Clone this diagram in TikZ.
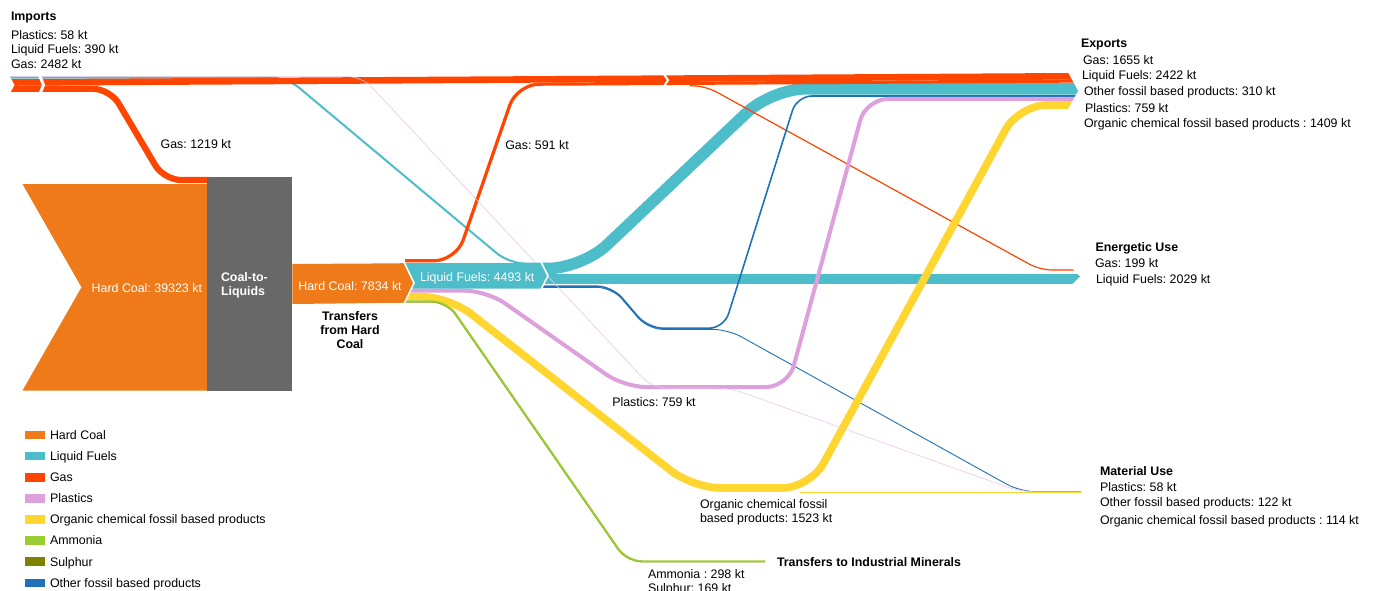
\documentclass[tikz,border=0pt]{standalone}
\usepackage{fontspec}
\setmainfont{Liberation Sans}
\frenchspacing
\definecolor{coal}{HTML}{EE7A1A}
\definecolor{liq}{HTML}{4DBDCA}
\definecolor{gas}{HTML}{FF4500}
\definecolor{plas}{HTML}{DDA0DD}
\definecolor{org}{HTML}{FFD52F}
\definecolor{amm}{HTML}{9ACD32}
\definecolor{sul}{HTML}{808000}
\definecolor{oth}{HTML}{1F72B8}
\definecolor{ctl}{HTML}{686868}
\begin{document}
\begin{tikzpicture}[x=1pt,y=-1pt,
  txt/.style={anchor=base west, inner sep=0pt, outer sep=0pt, font=\fontsize{12.4}{14}\selectfont},
  ttl/.style={txt, font=\fontsize{12.4}{14}\selectfont\bfseries},
  ctr/.style={anchor=base, inner sep=0pt, outer sep=0pt, font=\fontsize{12.4}{14}\selectfont\bfseries},
  wtxt/.style={txt, text=white},
  flowline/.style={line cap=butt, line join=round},
  whitecut/.style={white, line width=#1, line cap=butt, line join=miter},
]
\useasboundingbox (0,0) rectangle (1373,591);
\fill[white] (0,0) rectangle (1373,591);

% ---- flow end points ----
\coordinate (impGasA) at (10,82.5);
\coordinate (impGasB) at (10,88.8);
\coordinate (impLiq)  at (10,77.6);
\coordinate (impPla)  at (10,76.6);
\coordinate (ctlGas)  at (209,180);
\coordinate (trGas)   at (405,260.8);
\coordinate (trPla)   at (400,290.7);
\coordinate (trOrg)   at (400,296.6);
\coordinate (trAmm)   at (400,301.3);
\coordinate (trSul)   at (400,302.1);
\coordinate (lfExp)   at (540,268.5);
\coordinate (lfEne)   at (540,279);
\coordinate (lfOthA)  at (540,286.2);
\coordinate (lfOthB)  at (540,287.4);
\coordinate (lfIn)    at (548,263.5);
\coordinate (gSplit)  at (690,85.8);
\coordinate (orgSplit) at (800,492.4);
\coordinate (expGasA) at (1085,76.2);
\coordinate (expGasB) at (1085,81.0);
\coordinate (expLiq)  at (1085,88.8);
\coordinate (expOth)  at (1085,96);
\coordinate (expPla)  at (1085,99);
\coordinate (expOrg)  at (1085,105);
\coordinate (eneGas)  at (1085,270);
\coordinate (eneLiq)  at (1085,279);
\coordinate (matOth)  at (1085,491.6);
\coordinate (matOrg)  at (1085,492.4);
\coordinate (matPla)  at (1085,491.6);
\coordinate (minAmm)  at (765,561.2);
\coordinate (minSul)  at (765,561.9);

% ---- flows, cut to the arrow tips on the right ----
\begin{scope}
\clip (-5,-5) -- (1068,-5) -- (1068,72.5) -- (1078,90.8) -- (1068,109)
  -- (1068,268.3) -- (1071.5,268.3) -- (1080,276.5) -- (1071.5,284.7) -- (1068,284.7)
  -- (1068,490.5) -- (1081,490.5) -- (1081,494) -- (1068,494) -- (1068,600) -- (-5,600) -- cycle;

% liquid fuels
\draw[flowline, liq, line width=11.5, rounded corners=34] (lfExp) -- (582,268.5) -- (772,88.8) -- (expLiq);
\draw[flowline, liq, line width=10] (lfEne) -- (eneLiq);
\draw[flowline, liq, line width=2, rounded corners=16] (impLiq) -- (287,77.6) -- (509,263.5) -- (lfIn);

% gas
\draw[flowline, gas, line width=6.6] (impGasA) -- (expGasA);
\draw[flowline, gas, line width=6.2, rounded corners=17] (impGasB) -- (110,88.8) -- (164,180) -- (ctlGas);
\draw[flowline, gas, line width=3.2, rounded corners=22] (trGas) -- (456,260.8) -- (517,84.3) -- (expGasB);
\draw[flowline, gas, line width=1.2, rounded corners=12] (gSplit) -- (706,86.2) -- (1040,270) -- (eneGas);

% other fossil based products
\draw[flowline, oth, line width=1.6, rounded corners=15] (lfOthA) -- (612,286.2) -- (648,328.2) -- (724,328.2) -- (797,96) -- (expOth);
\draw[flowline, oth, line width=0.9, rounded corners=15] (lfOthB) -- (612,287.4) -- (648,329.4) -- (728,329.4) -- (1020,491.6) -- (matOth);

% plastics
\draw[flowline, plas, line width=4, rounded corners=22] (trPla) -- (487,290.7) -- (624,387) -- (788,387) -- (866,99) -- (expPla);

% organic chemical fossil based products
\draw[flowline, org, line width=7.6, rounded corners=28] (trOrg) -- (449,296.6) -- (693,488) -- (810,488) -- (1019,105) -- (expOrg);
\draw[flowline, org, line width=0.8] (orgSplit) -- (matOrg);

% ammonia and sulphur
\draw[flowline, sul!70!amm, line width=1, rounded corners=15] (trSul) -- (446.6,302.1) -- (626.6,561.9) -- (minSul);
\draw[flowline, amm, line width=1.8, rounded corners=15] (trAmm) -- (447,301.3) -- (627,561.2) -- (minAmm);

% imported plastics to material use
\draw[flowline, plas!60, line width=0.6, rounded corners=14] (impPla) -- (362,76.6) -- (652,388) -- (730,388) -- (1020,491.6) -- (matPla);
\end{scope}

% ---- process nodes ----
\fill[coal] (22.5,184) -- (207,184) -- (207,390.5) -- (22.5,390.5) -- (81.5,287.3) -- cycle;
\fill[ctl] (207,176.7) rectangle (292.3,390.7);
\fill[liq] (400,263) -- (541,263) -- (548,275.7) -- (541,288.5) -- (400,288.5) -- cycle;
\fill[coal] (292.3,264) -- (404,263.3) -- (414,283) -- (404,302.7) -- (292.3,304) -- cycle;

% white chevron gaps
\draw[whitecut=1.6] (404,262) -- (414,283) -- (404,304);
\draw[whitecut=1.6] (541,262) -- (548,275.7) -- (541,289.5);
\fill[white] (9,75) -- (14.5,85) -- (9,95) -- cycle;
\draw[whitecut=3] (39.5,75) -- (43.5,85) -- (39.5,95);
\draw[whitecut=2] (663.5,73.5) -- (668,80.2) -- (663.5,87);

% ---- labels on nodes ----
\node[wtxt] (hcIn) at (91.7,292.7) {Hard Coal: 39323 kt};
\node[wtxt, font=\fontsize{12.4}{14}\selectfont\bfseries] (ctlA) at (221,281) {Coal-to-};
\node[wtxt, font=\fontsize{12.4}{14}\selectfont\bfseries] (ctlB) at (221,295) {Liquids};
\node[wtxt] (hcTr) at (298.3,290) {Hard Coal: 7834 kt};
\node[wtxt] (lfNode) at (420,281.7) {Liquid Fuels: 4493 kt};
\node[ctr] (trA) at (350,320.7) {Transfers};
\node[ctr] (trB) at (350,334.7) {from Hard};
\node[ctr] (trC) at (350,348.3) {Coal};

% ---- imports ----
\node[ttl] (impT) at (11,20.7) {Imports};
\node[txt] (impP) at (11,39.3) {Plastics: 58 kt};
\node[txt] (impL) at (11,54) {Liquid Fuels: 390 kt};
\node[txt] (impG) at (11,68.3) {Gas: 2482 kt};

% ---- flow labels ----
\node[txt] (lblG1) at (160.7,148.3) {Gas: 1219 kt};
\node[txt] (lblG2) at (505.3,149.3) {Gas: 591 kt};
\node[txt] (lblPl) at (612.3,406) {Plastics: 759 kt};
\node[txt] (lblOrA) at (700,508.5) {Organic chemical fossil};
\node[txt] (lblOrB) at (700,522.5) {based products: 1523 kt};

% ---- exports ----
\node[ttl] (expT) at (1081,47.3) {Exports};
\node[txt] (expA) at (1083,64.8) {Gas: 1655 kt};
\node[txt] (expB) at (1082,79.8) {Liquid Fuels: 2422 kt};
\node[txt] (expC) at (1084,95.5) {Other fossil based products: 310 kt};
\node[txt] (expD) at (1085,112.3) {Plastics: 759 kt};
\node[txt] (expE) at (1084,127.3) {Organic chemical fossil based products : 1409 kt};

% ---- energetic use ----
\node[ttl] (eneT) at (1095.5,251) {Energetic Use};
\node[txt] (eneA) at (1095,267.5) {Gas: 199 kt};
\node[txt] (eneB) at (1096,283.5) {Liquid Fuels: 2029 kt};

% ---- material use ----
\node[ttl] (matT) at (1100,475) {Material Use};
\node[txt] (matA) at (1100,491.5) {Plastics: 58 kt};
\node[txt] (matB) at (1100,506.5) {Other fossil based products: 122 kt};
\node[txt] (matC) at (1100,524.5) {Organic chemical fossil based products : 114 kt};

% ---- industrial minerals ----
\node[ttl] (minT) at (777,566.5) {Transfers to Industrial Minerals};
\node[txt] (minA) at (648,578.5) {Ammonia : 298 kt};
\node[txt] (minB) at (648,592.5) {Sulphur: 169 kt};

% ---- legend ----
\foreach \c/\t [count=\i from 0] in {coal/Hard Coal, liq/Liquid Fuels, gas/Gas, plas/Plastics, org/Organic chemical fossil based products, amm/Ammonia, sul/Sulphur, oth/Other fossil based products} {
  \pgfmathsetmacro{\yy}{439.3+21.13*\i}
  \fill[\c] (25,\yy-8.7) rectangle (44.5,\yy);
  \node[txt] (leg\i) at (50,\yy) {\t};
}
\end{tikzpicture}
\end{document}
